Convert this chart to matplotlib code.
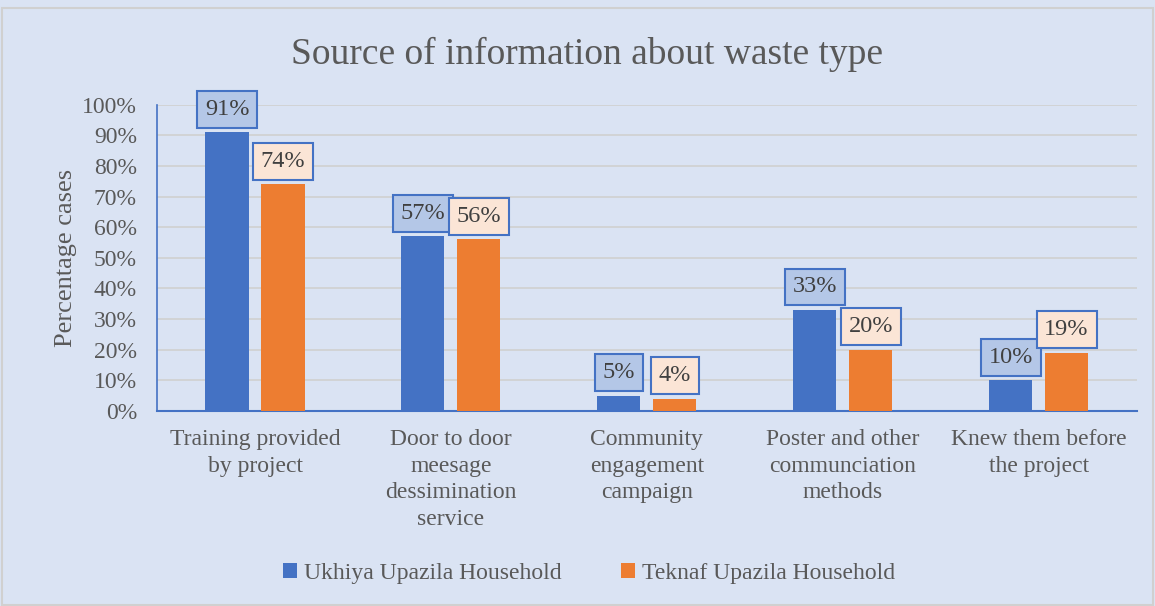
import numpy as np
import matplotlib
matplotlib.use("Agg")
import matplotlib.pyplot as plt

plt.rcParams["font.family"] = ["Liberation Serif", "DejaVu Serif"]

categories = ["Training provided\nby project", "Door to door\nmeesage\ndessimination\nservice",
              "Community\nengagement\ncampaign", "Poster and other\ncommunciation\nmethods",
              "Knew them before\nthe project"]
ukhiya = [0.91, 0.57, 0.05, 0.33, 0.10]
teknaf = [0.74, 0.56, 0.04, 0.20, 0.19]
series_names = ["Ukhiya Upazila Household", "Teknaf Upazila Household"]

bg = "#DAE3F3"
blue = "#4472C4"
orange = "#ED7D31"
txt = "#595959"

fig = plt.figure(figsize=(11.55, 6.06), dpi=100, facecolor=bg)
fig.patches.append(plt.Rectangle((0.002, 0.002), 0.996, 0.985, transform=fig.transFigure,
                                 fill=False, edgecolor="#D0D0D0", linewidth=1.5))
ax = fig.add_axes([0.136, 0.322, 0.848, 0.505], facecolor=bg)

x = np.arange(len(categories))
w = 0.22
off = 0.143
b1 = ax.bar(x - off, ukhiya, w, color=blue, label=series_names[0], zorder=3)
b2 = ax.bar(x + off, teknaf, w, color=orange, label=series_names[1], zorder=3)

for bars, vals, fc in [(b1, ukhiya, "#B4C7E7"), (b2, teknaf, "#FBE5D6")]:
    for b, v in zip(bars, vals):
        ax.annotate(f"{round(v*100)}%", (b.get_x() + b.get_width() / 2, v),
                    xytext=(0, 23), textcoords="offset pixels",
                    ha="center", va="center", fontsize=17.5, color="#404040", zorder=5,
                    bbox=dict(boxstyle="square,pad=0.32", fc=fc, ec=blue, lw=1.5))

ax.set_ylim(0, 1)
ax.set_xlim(-0.5, len(categories) - 0.5)
ax.set_yticks(np.arange(0, 1.01, 0.1))
ax.set_yticklabels([f"{int(round(t*100))}%" for t in np.arange(0, 1.01, 0.1)])
ax.set_xticks(x)
ax.set_xticklabels(categories, va="top", linespacing=1.35)
ax.tick_params(axis="both", length=0, labelsize=17, colors=txt)
ax.tick_params(axis="x", pad=13)
ax.tick_params(axis="y", pad=14.5)
ax.grid(axis="y", color="#D0D0D0", linewidth=1.2, zorder=0)
for s in ["top", "right"]:
    ax.spines[s].set_visible(False)
ax.spines["bottom"].set_color(blue)
ax.spines["bottom"].set_linewidth(1.5)
ax.spines["left"].set_color(blue)
ax.spines["left"].set_linewidth(1.2)
ax.set_ylabel("Percentage cases", fontsize=19, color=txt, labelpad=4)

fig.text(0.508, 0.91, "Source of information about waste type", ha="center", va="center",
         fontsize=27, color=txt)

fig.legend(handles=[b1, b2], loc="center", bbox_to_anchor=(0.51, 0.054), ncol=2,
           frameon=False, labelcolor=txt, handlelength=0.6, handleheight=0.6,
           handletextpad=0.3, columnspacing=2.5, prop={"size": 17})

fig.savefig("out.png", dpi=100, facecolor=bg)
